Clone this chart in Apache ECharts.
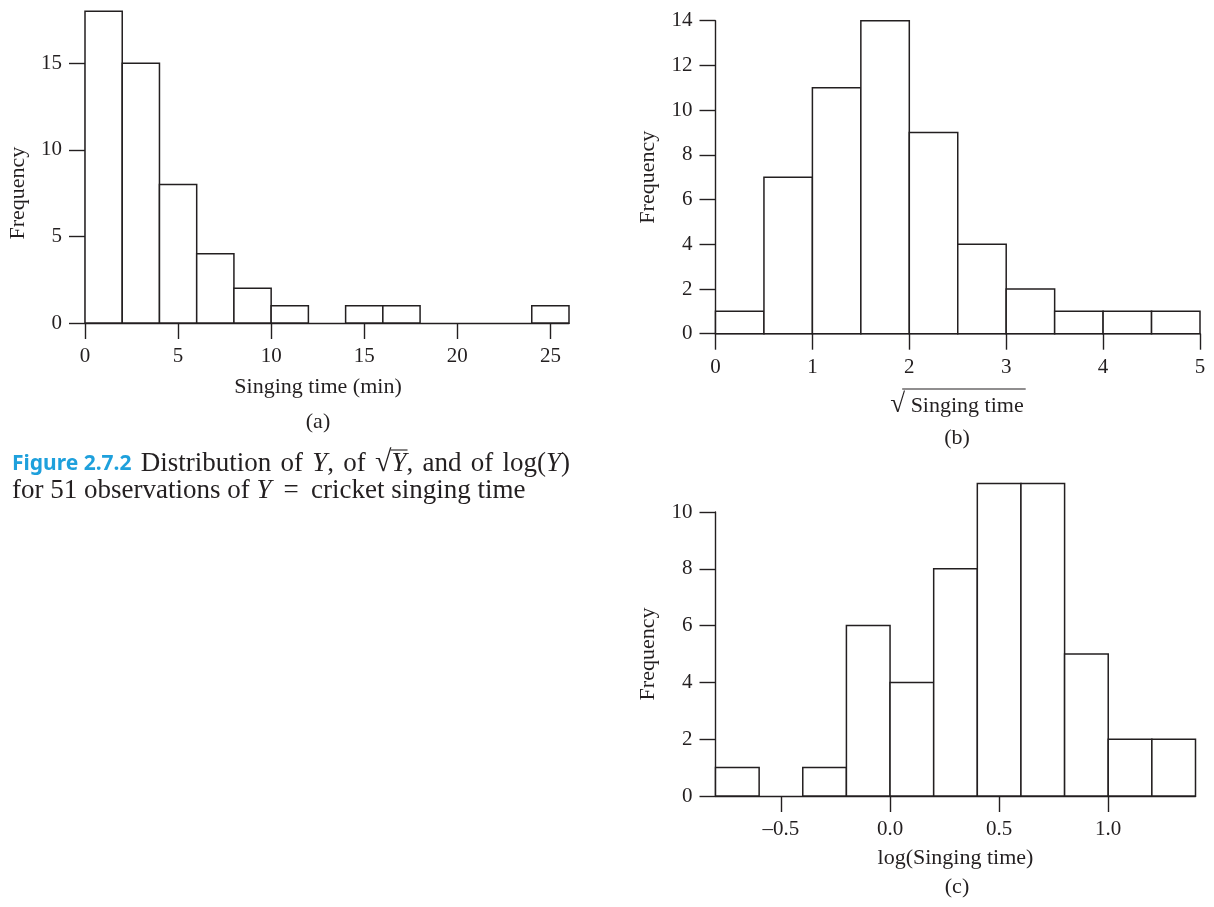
<!DOCTYPE html>
<html>
<head>
<meta charset="utf-8">
<script src="https://cdn.jsdelivr.net/npm/echarts@6/dist/echarts.min.js"></script>
<style>
  html, body { margin: 0; padding: 0; background: #fff; }
  #main { width: 1214px; height: 907px; }
</style>
</head>
<body>
<div id="main"></div>
<script>
// (a) singing time in minutes
const edgesA = [0, 2, 4, 6, 8, 10, 12, 14, 16, 18, 20, 22, 24, 26];
const countsA = [18, 15, 8, 4, 2, 1, 0, 1, 1, 0, 0, 0, 1];
const xTicksA = [0, 5, 10, 15, 20, 25];

// (b) square root of singing time
const edgesB = [0, 0.5, 1, 1.5, 2, 2.5, 3, 3.5, 4, 4.5, 5];
const countsB = [1, 7, 11, 14, 9, 4, 2, 1, 1, 1];
const xTicksB = [0, 1, 2, 3, 4, 5];

// (c) log of singing time
const edgesC = [-0.8, -0.6, -0.4, -0.2, 0, 0.2, 0.4, 0.6, 0.8, 1.0, 1.2, 1.4];
const countsC = [1, 0, 1, 6, 4, 8, 11, 11, 5, 2, 2];
const xTicksC = [-0.5, 0, 0.5, 1.0];

const INK = '#231f20';
const SERIF = '"Liberation Serif", "DejaVu Serif", serif';
const TICK_FONT = 21;
const NAME_FONT = 22;

const chart = echarts.init(document.getElementById('main'), null, { renderer: 'canvas' });

const mctx = document.createElement('canvas').getContext('2d');
function textWidth(str, font) { mctx.font = font; return mctx.measureText(str).width; }

function histSeries(idx, edges, counts) {
  const data = counts.map((c, i) => [edges[i], edges[i + 1], c]);
  return {
    type: 'custom',
    xAxisIndex: idx,
    yAxisIndex: idx,
    clip: false,
    z: 3,
    data: data,
    encode: { x: [0, 1], y: 2 },
    renderItem(params, api) {
      const c = api.value(2);
      if (!c) return null;
      const p0 = api.coord([api.value(0), c]);
      const p1 = api.coord([api.value(1), 0]);
      return {
        type: 'rect',
        shape: { x: p0[0], y: p0[1], width: p1[0] - p0[0], height: p1[1] - p0[1] },
        style: { fill: '#fff', stroke: INK, lineWidth: 1.5 }
      };
    }
  };
}

const lineStyle = { color: INK, width: 1.4 };
const labelStyle = { fontFamily: SERIF, fontSize: TICK_FONT, color: INK, margin: 23 };

function xAxis(idx, min, max, ticks, fmt, name, nameExtra) {
  return Object.assign({
    type: 'value', gridIndex: idx, min: min, max: max,
    axisLine: { onZero: false, lineStyle: lineStyle },
    axisTick: { inside: false, length: 16, lineStyle: lineStyle, customValues: ticks },
    axisLabel: Object.assign({}, labelStyle, { customValues: ticks, formatter: fmt }),
    splitLine: { show: false },
    name: name || '',
    nameLocation: 'middle',
    nameGap: 50,
    nameTextStyle: { fontFamily: SERIF, fontSize: NAME_FONT, color: INK }
  }, nameExtra || {});
}

function yAxis(idx, max, interval) {
  return {
    type: 'value', gridIndex: idx, min: 0, max: max, interval: interval,
    axisLine: { show: true, onZero: false, lineStyle: lineStyle },
    axisTick: { show: true, inside: false, length: 16, lineStyle: lineStyle },
    axisLabel: labelStyle,
    splitLine: { show: false },
    name: 'Frequency',
    nameLocation: 'middle',
    nameGap: 56,
    nameTextStyle: { fontFamily: SERIF, fontSize: NAME_FONT, color: INK }
  };
}

const fmtInt = v => String(v);
const fmtOne = v => (v < 0 ? '\u2013' : '') + Math.abs(v).toFixed(1);

// x-axis title of (b): radical sign with a bar over the words
const nameFont = NAME_FONT + 'px ' + SERIF;
const radFont = '27px ' + SERIF;
const radW = textWidth('\u221A', radFont);
const wordsW = textWidth(' Singing time', nameFont);
const bCenterX = 957, bNameY = 406;
const bStart = bCenterX - (radW + wordsW) / 2;

// caption
const CAP_FONT = 27;
const capSerif = CAP_FONT + 'px ' + SERIF;
const capItal = 'italic ' + CAP_FONT + 'px ' + SERIF;
const capRad = '30px ' + SERIF;
const figFont = 'bold 21px "Noto Sans", "Open Sans", sans-serif';
const capX = 12, capY1 = 464, capY2 = 491;
const runs1 = [
  { t: 'Figure 2.7.2', f: figFont, c: '#1ea0dc', keep: true },
  { t: ' Distribution of ', f: capSerif },
  { t: 'Y', f: capItal },
  { t: ', of ', f: capSerif },
  { t: '\u221A', f: capRad, dy: -1 },
  { t: 'Y', f: capItal, over: true },
  { t: ', and of log(', f: capSerif },
  { t: 'Y', f: capItal },
  { t: ')', f: capSerif }
];
const runs2 = [
  { t: 'for 51 observations of ', f: capSerif },
  { t: 'Y', f: capItal },
  { t: ' \u2009=\u2009 cricket singing time', f: capSerif }
];

// Lays out a line of styled runs; spaces may be widened slightly (up to maxExtra px)
// so that the line approaches targetEnd
function layoutRuns(runs, x0, y, targetEnd, maxExtra) {
  const out = [];
  const pieces = [];
  runs.forEach(r => {
    if (r.keep) { pieces.push(Object.assign({}, r, { sp: false })); return; }
    r.t.split(/( )/).forEach(tok => {
      if (tok === '') return;
      pieces.push(Object.assign({}, r, { t: tok, sp: tok === ' ' }));
    });
  });
  let natural = 0, nSp = 0;
  pieces.forEach(p => { p.w = textWidth(p.t, p.f); natural += p.w; if (p.sp) nSp++; });
  let extra = (targetEnd && nSp) ? Math.max(0, (targetEnd - x0 - natural) / nSp) : 0;
  if (maxExtra !== undefined) extra = Math.min(extra, maxExtra);
  let x = x0;
  pieces.forEach(p => {
    if (!p.sp) {
      out.push({
        type: 'text', x: x, y: y + (p.dy || 0),
        style: { text: p.t, font: p.f, fill: p.c || INK, align: 'left', verticalAlign: 'middle' }
      });
      if (p.over) {
        out.push({
          type: 'line',
          shape: { x1: x - 1, y1: y - 14, x2: x + p.w + 1, y2: y - 14 },
          style: { stroke: INK, lineWidth: 1.1 }
        });
      }
    }
    x += p.w + (p.sp ? extra : 0);
  });
  return out;
}

const graphics = [].concat(
  layoutRuns(runs1, capX, capY1, 588, 2.5),
  layoutRuns(runs2, capX, capY2),
  [
    { type: 'text', x: 318, y: 422, style: { text: '(a)', font: nameFont, fill: INK, align: 'center', verticalAlign: 'middle' } },
    { type: 'text', x: 957, y: 438, style: { text: '(b)', font: nameFont, fill: INK, align: 'center', verticalAlign: 'middle' } },
    { type: 'text', x: 957, y: 887, style: { text: '(c)', font: nameFont, fill: INK, align: 'center', verticalAlign: 'middle' } },
    { type: 'text', x: bStart, y: bNameY - 1, style: { text: '\u221A', font: radFont, fill: INK, align: 'left', verticalAlign: 'middle' } },
    { type: 'text', x: bStart + radW, y: bNameY, style: { text: ' Singing time', font: nameFont, fill: INK, align: 'left', verticalAlign: 'middle' } },
    { type: 'line', shape: { x1: bStart + radW * 0.8, y1: bNameY - 17, x2: bStart + radW + wordsW + 2, y2: bNameY - 17 }, style: { stroke: INK, lineWidth: 1.1 } }
  ]
);

const option = {
  backgroundColor: '#fff',
  animation: false,
  grid: [
    { left: 85, right: 645, top: 63.3, bottom: 584 },
    { left: 715.5, right: 14, top: 20.7, bottom: 573.3 },
    { left: 715.5, right: 18.5, top: 512, bottom: 111 }
  ],
  xAxis: [
    xAxis(0, 0, 26, xTicksA, fmtInt, 'Singing time (min)', { nameGap: 53, nameTextStyle: { fontFamily: SERIF, fontSize: NAME_FONT, color: INK, padding: [0, 18, 0, 0] } }),
    xAxis(1, 0, 5, xTicksB, fmtInt, ''),
    xAxis(2, -0.8, 1.4, xTicksC, fmtOne, 'log(Singing time)', { nameGap: 51 })
  ],
  yAxis: [
    yAxis(0, 15, 5),
    yAxis(1, 14, 2),
    yAxis(2, 10, 2)
  ],
  series: [
    histSeries(0, edgesA, countsA),
    histSeries(1, edgesB, countsB),
    histSeries(2, edgesC, countsC)
  ],
  graphic: graphics
};

chart.setOption(option);
</script>
</body>
</html>
